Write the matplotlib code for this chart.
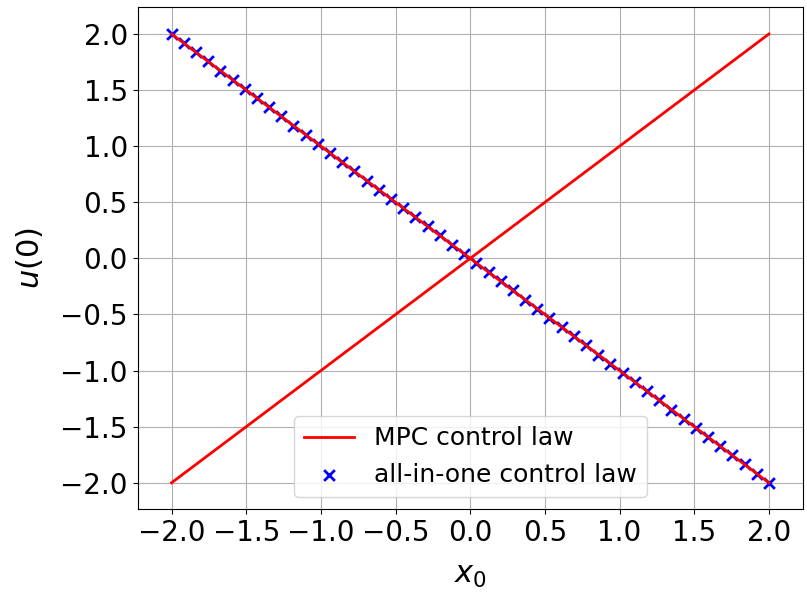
import numpy as np
import matplotlib
matplotlib.use("Agg")
import matplotlib.pyplot as plt

# initial state grid and control laws
x_line = [-2.0, 2.0]
u_mpc_neg = [2.0, -2.0]
u_mpc_pos = [-2.0, 2.0]
x0_samples = np.linspace(-2.0, 2.0, 50)
u_all_in_one = -x0_samples

fig = plt.figure(figsize=(8.07, 5.92), dpi=100)
ax = fig.add_axes([0.1704, 0.1394, 0.8246, 0.8483])

ax.plot(x_line, u_mpc_neg, color='red', lw=2, label='MPC control law', zorder=3)
ax.plot(x_line, u_mpc_pos, color='red', lw=2, zorder=3)
ax.scatter(x0_samples, u_all_in_one, marker='x', color='blue', s=60,
           linewidths=2.0, label='all-in-one control law', zorder=2)

ax.set_xlim(-2.228, 2.228)
ax.set_ylim(-2.238, 2.238)
ax.set_xticks(np.arange(-2.0, 2.01, 0.5))
ax.set_yticks(np.arange(-2.0, 2.01, 0.5))
ax.tick_params(labelsize=20)
ax.set_xlabel('$x_0$', fontsize=22, labelpad=10)
ax.set_ylabel('$u(0)$', fontsize=22, labelpad=11)
ax.grid(True)
ax.legend(loc='lower center', fontsize=18)

fig.savefig('out.png', dpi=100)
